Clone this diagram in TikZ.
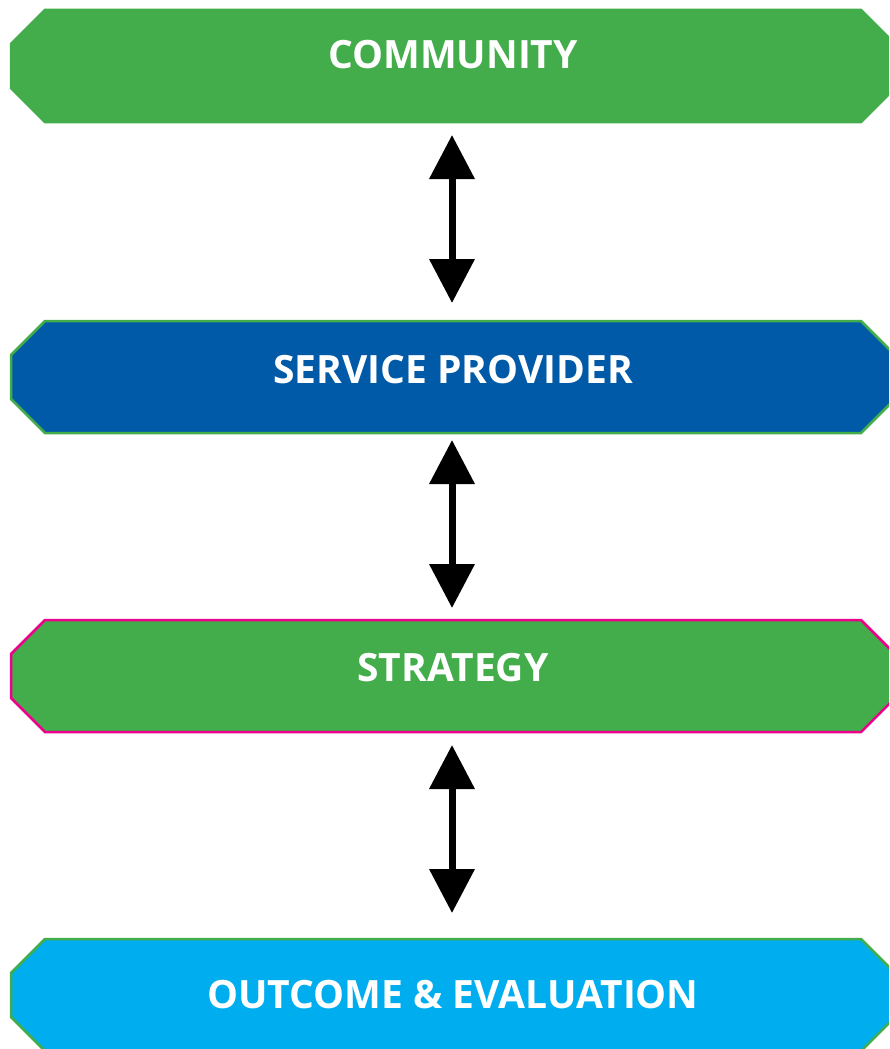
\documentclass[tikz,border=0pt]{standalone}
\usepackage{fontspec}
\setmainfont{Open Sans}
\usetikzlibrary{arrows.meta}
\definecolor{bgreen}{HTML}{42AD4A}
\definecolor{bblue}{HTML}{005AA8}
\definecolor{bcyan}{HTML}{00AEEF}
\definecolor{bpink}{HTML}{EC008C}
\newcommand{\bannerpath}[1]{%
  (11+34,#1) -- (895-34,#1) -- (895,#1+34) -- (895,#1+112-34) -- (895-34,#1+112)
  -- (11+34,#1+112) -- (11,#1+112-34) -- (11,#1+34) -- cycle}
\begin{document}
\begin{tikzpicture}[x=1pt,y=-1pt,
  banner/.style={line width=2.5pt, line join=miter},
  label/.style={anchor=base, text=white, font=\bfseries\fontsize{39}{39}\selectfont},
  dblarrow/.style={line width=7pt, {Triangle[width=44pt,length=44pt]}-{Triangle[width=44pt,length=44pt]}}]
\clip (0,0) rectangle (889,1049);
\path[banner, fill=bgreen, draw=bgreen] \bannerpath{10};
\path[banner, fill=bblue, draw=bgreen] \bannerpath{321};
\path[banner, fill=bgreen, draw=bpink] \bannerpath{620};
\path[banner, fill=bcyan, draw=bgreen] \bannerpath{939};
\node[label] (community) at (453,69) {COMMUNITY};
\node[label] (provider) at (453,383) {SERVICE PROVIDER};
\node[label] (strategy) at (453,681) {STRATEGY};
\node[label] (outcome) at (453,1008) {OUTCOME \& EVALUATION};
\coordinate (a1s) at (452,135); \coordinate (a1e) at (452,303);
\coordinate (a2s) at (452,440); \coordinate (a2e) at (452,608);
\coordinate (a3s) at (452,745); \coordinate (a3e) at (452,913);
\draw[dblarrow] (a1s) -- (a1e);
\draw[dblarrow] (a2s) -- (a2e);
\draw[dblarrow] (a3s) -- (a3e);
\end{tikzpicture}
\end{document}
